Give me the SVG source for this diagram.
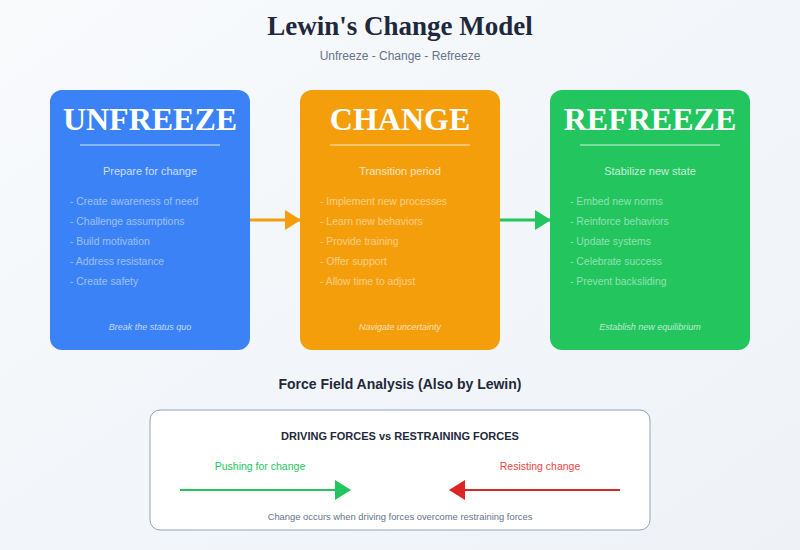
<svg xmlns="http://www.w3.org/2000/svg" width="800" height="550" viewBox="0 0 800 550">
<defs>
<linearGradient id="bg" x1="0" y1="0" x2="1" y2="1"><stop offset="0" stop-color="#f8fafc"/><stop offset="1" stop-color="#eef2f7"/></linearGradient>
<marker id="ao" markerWidth="16" markerHeight="20" refX="15" refY="10" orient="auto" markerUnits="userSpaceOnUse"><path d="M0,0 L16,10 L0,20 Z" fill="#f59e0b"/></marker>
<marker id="ag" markerWidth="16" markerHeight="20" refX="15" refY="10" orient="auto" markerUnits="userSpaceOnUse"><path d="M0,0 L16,10 L0,20 Z" fill="#22c55e"/></marker>
<marker id="ar" markerWidth="16" markerHeight="20" refX="15" refY="10" orient="auto" markerUnits="userSpaceOnUse"><path d="M0,0 L16,10 L0,20 Z" fill="#dc2626"/></marker>
</defs>
<style>
text{font-family:"Liberation Sans",Arial,sans-serif}
.h{font-family:"Liberation Serif","DejaVu Serif",serif;font-weight:bold;font-size:32px;fill:#fff;text-anchor:middle}
.sub{font-size:11px;fill:#fff;fill-opacity:.75;text-anchor:middle}
.b{font-size:10.4px;fill:#fff;fill-opacity:.5}
.it{font-size:9px;font-style:italic;fill:#fff;fill-opacity:.7;text-anchor:middle}
.rule{stroke:#fff;stroke-opacity:.4;stroke-width:2}
</style>
<rect width="800" height="550" fill="url(#bg)"/>
<text x="400" y="35" text-anchor="middle" style="font-family:'Liberation Serif','DejaVu Serif',serif;font-weight:bold;font-size:27px;fill:#1e293b">Lewin's Change Model</text>
<text x="400" y="60" text-anchor="middle" font-size="12" fill="#64748b">Unfreeze - Change - Refreeze</text>
<g id="unfreeze">
<rect x="50" y="90" width="200" height="260" rx="12" fill="#3b82f6"/>
<text class="h" x="150" y="130">UNFREEZE</text>
<line class="rule" x1="80" y1="145" x2="220" y2="145"/>
<text class="sub" x="150" y="175">Prepare for change</text>
<text class="b" x="70" y="205">- Create awareness of need</text>
<text class="b" x="70" y="225">- Challenge assumptions</text>
<text class="b" x="70" y="245">- Build motivation</text>
<text class="b" x="70" y="265">- Address resistance</text>
<text class="b" x="70" y="285">- Create safety</text>
<text class="it" x="150" y="330">Break the status quo</text>
</g>
<g id="change">
<rect x="300" y="90" width="200" height="260" rx="12" fill="#f59e0b"/>
<text class="h" x="400" y="130">CHANGE</text>
<line class="rule" x1="330" y1="145" x2="470" y2="145"/>
<text class="sub" x="400" y="175">Transition period</text>
<text class="b" x="320" y="205">- Implement new processes</text>
<text class="b" x="320" y="225">- Learn new behaviors</text>
<text class="b" x="320" y="245">- Provide training</text>
<text class="b" x="320" y="265">- Offer support</text>
<text class="b" x="320" y="285">- Allow time to adjust</text>
<text class="it" x="400" y="330">Navigate uncertainty</text>
</g>
<g id="refreeze">
<rect x="550" y="90" width="200" height="260" rx="12" fill="#22c55e"/>
<text class="h" x="650" y="130">REFREEZE</text>
<line class="rule" x1="580" y1="145" x2="720" y2="145"/>
<text class="sub" x="650" y="175">Stabilize new state</text>
<text class="b" x="570" y="205">- Embed new norms</text>
<text class="b" x="570" y="225">- Reinforce behaviors</text>
<text class="b" x="570" y="245">- Update systems</text>
<text class="b" x="570" y="265">- Celebrate success</text>
<text class="b" x="570" y="285">- Prevent backsliding</text>
<text class="it" x="650" y="330">Establish new equilibrium</text>
</g>
<g id="connectors">
<line x1="250" y1="220" x2="300" y2="220" stroke="#f59e0b" stroke-width="3" marker-end="url(#ao)"/>
<line x1="500" y1="220" x2="550" y2="220" stroke="#22c55e" stroke-width="3" marker-end="url(#ag)"/>
</g>
<text x="400" y="389" text-anchor="middle" font-size="14" font-weight="bold" fill="#1e293b">Force Field Analysis (Also by Lewin)</text>
<g id="forcefield">
<rect x="150" y="410" width="500" height="120" rx="10" fill="#fff" stroke="#94a3b8" stroke-width="1"/>
<text x="400" y="440" text-anchor="middle" font-size="11" font-weight="bold" fill="#1e293b">DRIVING FORCES vs RESTRAINING FORCES</text>
<text x="260" y="470" text-anchor="middle" font-size="10.5" fill="#22c55e">Pushing for change</text>
<text x="540" y="470" text-anchor="middle" font-size="10.5" fill="#ef4444">Resisting change</text>
<line x1="180" y1="490" x2="350" y2="490" stroke="#22c55e" stroke-width="2" marker-end="url(#ag)"/>
<line x1="620" y1="490" x2="450" y2="490" stroke="#dc2626" stroke-width="2" marker-end="url(#ar)"/>
<text x="400" y="520" text-anchor="middle" font-size="9.4" fill="#64748b">Change occurs when driving forces overcome restraining forces</text>
</g>
</svg>
